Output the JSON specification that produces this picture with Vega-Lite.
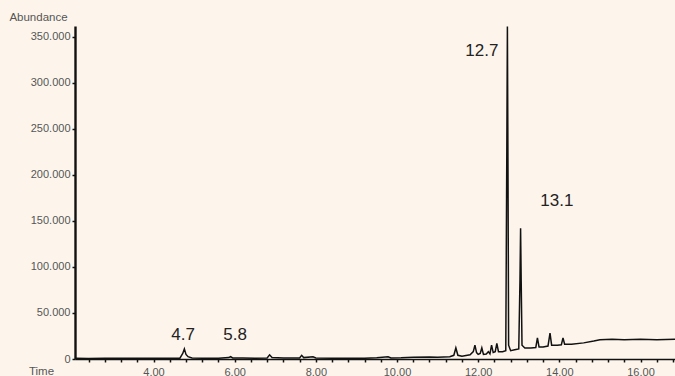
{
  "$schema": "https://vega.github.io/schema/vega-lite/v6.json",
  "autosize": "none",
  "width": 600,
  "height": 333,
  "padding": {"left": 75, "top": 26, "right": 0, "bottom": 17},
  "background": "#fdf5ec",
  "config": {
    "view": {"stroke": null},
    "font": "Liberation Sans",
    "axis": {"grid": false, "labelOverlap": false, "labelFont": "Liberation Sans", "titleFont": "Liberation Sans"}
  },
  "datasets": {
    "trace": [
      {"t": 2.07, "a": 800}, {"t": 2.4, "a": 600}, {"t": 2.8, "a": 900}, {"t": 3.2, "a": 700},
      {"t": 3.6, "a": 800}, {"t": 4.0, "a": 700}, {"t": 4.4, "a": 900}, {"t": 4.65, "a": 900},
      {"t": 4.72, "a": 6000}, {"t": 4.76, "a": 11000}, {"t": 4.8, "a": 5000}, {"t": 4.85, "a": 2500},
      {"t": 4.95, "a": 1200}, {"t": 5.2, "a": 900}, {"t": 5.6, "a": 800}, {"t": 5.85, "a": 1500},
      {"t": 5.9, "a": 2500}, {"t": 5.95, "a": 1200}, {"t": 6.2, "a": 1000}, {"t": 6.5, "a": 900},
      {"t": 6.8, "a": 1200}, {"t": 6.86, "a": 4500}, {"t": 6.92, "a": 1500}, {"t": 7.2, "a": 1000},
      {"t": 7.6, "a": 1200}, {"t": 7.65, "a": 4000}, {"t": 7.7, "a": 1500}, {"t": 7.93, "a": 2500},
      {"t": 8.0, "a": 1200}, {"t": 8.4, "a": 900}, {"t": 8.8, "a": 900}, {"t": 9.2, "a": 800},
      {"t": 9.5, "a": 1300}, {"t": 9.78, "a": 2500}, {"t": 9.85, "a": 1200}, {"t": 10.1, "a": 1300},
      {"t": 10.4, "a": 2000}, {"t": 10.8, "a": 2200}, {"t": 11.0, "a": 2000}, {"t": 11.3, "a": 2500},
      {"t": 11.4, "a": 4000}, {"t": 11.45, "a": 12000}, {"t": 11.5, "a": 4000}, {"t": 11.6, "a": 3000},
      {"t": 11.8, "a": 4500}, {"t": 11.88, "a": 8000}, {"t": 11.92, "a": 15000}, {"t": 11.96, "a": 7000},
      {"t": 12.0, "a": 5000}, {"t": 12.05, "a": 6000}, {"t": 12.09, "a": 12000}, {"t": 12.13, "a": 5000},
      {"t": 12.2, "a": 5500}, {"t": 12.25, "a": 8000}, {"t": 12.29, "a": 5500}, {"t": 12.33, "a": 15000},
      {"t": 12.37, "a": 7000}, {"t": 12.42, "a": 8000}, {"t": 12.46, "a": 17000}, {"t": 12.5, "a": 8000},
      {"t": 12.6, "a": 8000}, {"t": 12.68, "a": 9000}, {"t": 12.705, "a": 220000}, {"t": 12.72, "a": 361000},
      {"t": 12.735, "a": 200000}, {"t": 12.75, "a": 15000}, {"t": 12.8, "a": 9000}, {"t": 12.9, "a": 10000},
      {"t": 13.0, "a": 11000}, {"t": 13.03, "a": 86000}, {"t": 13.045, "a": 142000}, {"t": 13.06, "a": 85000},
      {"t": 13.08, "a": 15000}, {"t": 13.15, "a": 12000}, {"t": 13.3, "a": 12000}, {"t": 13.42, "a": 12500},
      {"t": 13.46, "a": 23000}, {"t": 13.5, "a": 13000}, {"t": 13.6, "a": 13000}, {"t": 13.72, "a": 14000},
      {"t": 13.77, "a": 28000}, {"t": 13.81, "a": 15000}, {"t": 13.95, "a": 15000}, {"t": 14.05, "a": 15500},
      {"t": 14.09, "a": 23000}, {"t": 14.13, "a": 16000}, {"t": 14.3, "a": 16000}, {"t": 14.6, "a": 17500},
      {"t": 14.85, "a": 19500}, {"t": 15.0, "a": 21000}, {"t": 15.3, "a": 21500}, {"t": 15.6, "a": 21000},
      {"t": 16.0, "a": 21500}, {"t": 16.4, "a": 21000}, {"t": 16.85, "a": 21500}
    ],
    "labels": [
      {"t": 12.09, "a": 334000, "txt": "12.7"},
      {"t": 13.94, "a": 171000, "txt": "13.1"},
      {"t": 4.73, "a": 26000, "txt": "4.7"},
      {"t": 6.01, "a": 26000, "txt": "5.8"}
    ]
  },
  "encoding": {
    "x": {
      "field": "t", "type": "quantitative",
      "scale": {"domain": [2.065, 16.85], "nice": false, "zero": false},
      "axis": {
        "title": "Time", "titleAngle": 0, "titleX": -34, "titleY": 12, "titleAlign": "center",
        "titleBaseline": "middle", "titleFontSize": 11.5, "titleFontWeight": "normal", "titleColor": "#555555",
        "values": [2.4, 2.8, 3.2, 3.6, 4.0, 4.4, 4.8, 5.2, 5.6, 6.0, 6.4, 6.8, 7.2, 7.6, 8.0, 8.4, 8.8, 9.2, 9.6, 10.0, 10.4, 10.8, 11.2, 11.6, 12.0, 12.4, 12.8, 13.2, 13.6, 14.0, 14.4, 14.8, 15.2, 15.6, 16.0, 16.4, 16.8],
        "labelExpr": "abs(datum.value/2 - round(datum.value/2)) < 0.01 ? format(datum.value, '.2f') : ''",
        "labelOverlap": false, "labelFontSize": 11, "labelColor": "#555555", "labelPadding": 4,
        "tickSize": 3, "tickColor": "#111111", "tickWidth": 1.5,
        "domainColor": "#111111", "domainWidth": 1.6
      }
    },
    "y": {
      "field": "a", "type": "quantitative",
      "scale": {"domain": [0, 361500], "nice": false},
      "axis": {
        "title": "Abundance", "titleAngle": 0, "titleX": -37, "titleY": -9, "titleAlign": "center",
        "titleBaseline": "middle", "titleFontSize": 11.5, "titleFontWeight": "normal", "titleColor": "#555555",
        "values": [0, 50000, 100000, 150000, 200000, 250000, 300000, 350000],
        "labelExpr": "datum.value == 0 ? '0' : format(datum.value/1000, 'd') + '.000'",
        "labelOverlap": false, "labelFontSize": 11, "labelColor": "#555555", "labelPadding": 2,
        "tickSize": 3, "tickColor": "#111111", "tickWidth": 1.5,
        "domainColor": "#111111", "domainWidth": 2.4
      }
    }
  },
  "layer": [
    {
      "data": {"name": "trace"},
      "mark": {"type": "line", "color": "#111111", "strokeWidth": 1.5, "clip": true}
    },
    {
      "data": {"name": "labels"},
      "mark": {"type": "text", "fontSize": 17, "color": "#222222", "align": "center", "baseline": "middle", "font": "Liberation Sans"},
      "encoding": {
        "text": {"field": "txt"}
      }
    }
  ]
}
